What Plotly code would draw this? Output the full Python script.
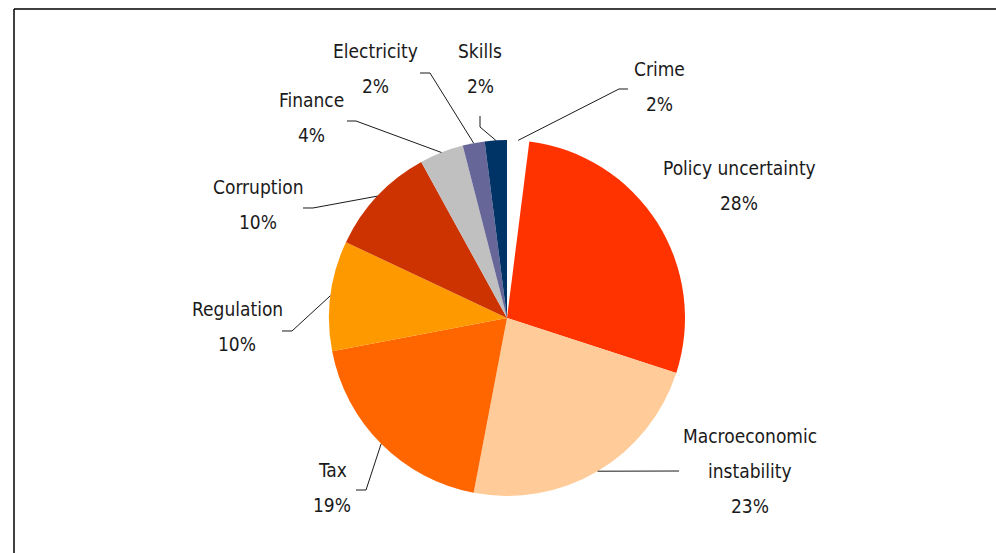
import math
import plotly.graph_objects as go

# ---- data -------------------------------------------------------------
categories = ["Crime", "Policy uncertainty", "Macroeconomic instability", "Tax",
              "Regulation", "Corruption", "Finance", "Electricity", "Skills"]
shares = [2, 28, 23, 19, 10, 10, 4, 2, 2]
colors = ["#FFFFFF", "#FF3300", "#FFCC99", "#FF6600", "#FF9900",
          "#CC3300", "#C0C0C0", "#666699", "#003366"]

# ---- layout settings (pixels) -----------------------------------------
W, H = 996, 553
CX, CY, R = 507, 318, 178          # pie centre and radius
LINE_GAP = 35                      # spacing between label lines
FONT = dict(family="DejaVu Sans Condensed, Liberation Sans Narrow, Arial Narrow, sans-serif",
            size=19, color="#1a1a1a")

# label text lines, first-line centre, and leader elbow points
label_lines = {
    "Macroeconomic instability": ["Macroeconomic", "instability"],
}
label_xy = {
    "Crime": (659, 69),
    "Policy uncertainty": (739, 168),
    "Macroeconomic instability": (750, 436),
    "Tax": (332, 470),
    "Regulation": (237, 309),
    "Corruption": (258, 187),
    "Finance": (311, 100),
    "Electricity": (375, 51),
    "Skills": (480, 51),
}
leader_path = {
    "Crime": [(619, 89), (628, 89)],
    "Macroeconomic instability": [(679, 471)],
    "Tax": [(366, 490), (356, 490)],
    "Regulation": [(292, 331), (282, 331)],
    "Corruption": [(313, 208), (303, 208)],
    "Finance": [(356, 121), (347, 121)],
    "Electricity": [(430, 73), (420, 73)],
    "Skills": [(480, 127), (480, 116)],
}


def px(x):
    return x / W


def py(y):
    return 1 - y / H


fig = go.Figure(go.Pie(
    labels=categories,
    values=shares,
    sort=False,
    direction="clockwise",
    rotation=0,
    marker=dict(colors=colors, line=dict(width=0)),
    textinfo="none",
    hoverinfo="label+percent",
    showlegend=False,
    domain=dict(x=[px(CX - R), px(CX + R)], y=[py(CY + R), py(CY - R)]),
))

annotations = []
shapes = []
total = sum(shares)
cum = 0
for name, v in zip(categories, shares):
    mid = (cum + v / 2) / total * 2 * math.pi
    cum += v
    lines = label_lines.get(name, [name]) + [f"{v}%"]
    lx, ly = label_xy[name]
    for i, t in enumerate(lines):
        annotations.append(dict(
            x=px(lx), y=py(ly + i * LINE_GAP), xref="paper", yref="paper",
            text=t, showarrow=False, xanchor="center", yanchor="middle",
            font=FONT,
        ))
    if name in leader_path:
        ax = CX + R * math.sin(mid)
        ay = CY - R * math.cos(mid)
        pts = [(ax, ay)] + leader_path[name]
        path = "M " + " L ".join(f"{px(x):.5f},{py(y):.5f}" for x, y in pts)
        shapes.append(dict(type="path", path=path, xref="paper", yref="paper",
                           line=dict(color="#1a1a1a", width=1)))

# outer frame (left and top edges)
shapes.append(dict(type="line", xref="paper", yref="paper",
                   x0=px(14), y0=py(9), x1=1.02, y1=py(9),
                   line=dict(color="black", width=1.5)))
shapes.append(dict(type="line", xref="paper", yref="paper",
                   x0=px(14), y0=py(9), x1=px(14), y1=-0.02,
                   line=dict(color="black", width=1.5)))

fig.update_layout(
    width=W, height=H,
    margin=dict(l=0, r=0, t=0, b=0),
    paper_bgcolor="white",
    plot_bgcolor="white",
    annotations=annotations,
    shapes=shapes,
)

fig.write_html("out.html")
